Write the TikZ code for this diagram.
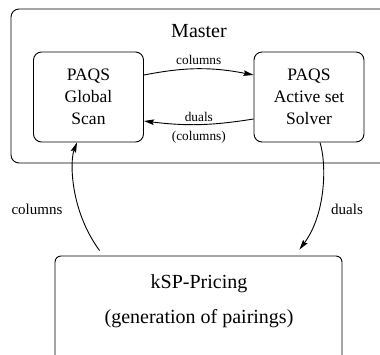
\documentclass[tikz,border=0pt]{standalone}
\usepackage{fontspec}
\setmainfont{Liberation Serif}
\usetikzlibrary{arrows.meta}
\begin{document}
\begin{tikzpicture}[
  x=1pt, y=-1pt,
  line width=0.9pt,
  frame/.style={draw, rounded corners=8pt, inner sep=0pt},
  stage/.style={frame, align=center, minimum width=110pt, minimum height=90pt,
                font=\fontsize{17.5}{22}\selectfont},
  bigtext/.style={inner sep=0pt, font=\fontsize{20}{24}\selectfont},
  flowlabel/.style={inner sep=0pt, font=\fontsize{13.3}{15}\selectfont},
  sidelabel/.style={inner sep=0pt, font=\fontsize{15}{18}\selectfont},
  link/.style={-{Stealth[length=10pt,width=5.5pt,inset=1.5pt]}}
]
\useasboundingbox (0,0) rectangle (380,354);
\clip (0,0) rectangle (380,354);

% master problem frame (runs off the right edge)
\node[frame, minimum width=389pt, minimum height=154pt] (master) at (205.5,86) {};
\node[bigtext] (mlabel) at (199,31) {Master};

% the two solvers inside the master
\node[stage] (gscan)  at (88.5,97) {PAQS\\Global\\Scan};
\node[stage] (asolve) at (309,97)  {PAQS\\Active set\\Solver};

% pricing box (runs off the bottom edge)
\node[frame, rounded corners=6pt, minimum width=287pt, minimum height=144pt] (pricing) at (198.5,328) {};
\node[bigtext] (ptitle) at (199,284) {kSP-Pricing};
\node[bigtext] (psub)   at (199,319) {(generation of pairings)};

% exchanges inside the master
\draw[link] ([yshift=22pt]gscan.east) to[bend left=11]
  node[flowlabel, above=4pt] {columns} ([yshift=22pt]asolve.west);
\draw[link] ([yshift=-22pt]asolve.west) to[bend left=8]
  node[flowlabel, above=2pt] {duals}
  node[flowlabel, below=6pt] {(columns)} ([yshift=-24pt]gscan.east);

% exchanges with the pricing
\draw[link] ([xshift=45pt,yshift=5pt]pricing.north west)
  .. controls +(-30,-41) and +(-7,18) .. ([xshift=-11.5pt]gscan.south);
\draw[link] ([xshift=11pt]asolve.south)
  .. controls +(7,23) and +(26,-35) .. ([xshift=-43pt,yshift=6pt]pricing.north east);

\node[sidelabel] (lcol) at (37,209) {columns};
\node[sidelabel] (rdual) at (347,209) {duals};
\end{tikzpicture}
\end{document}
